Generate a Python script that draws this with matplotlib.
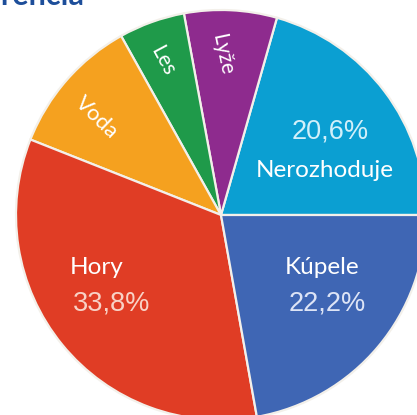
import matplotlib
matplotlib.use("Agg")
import matplotlib.pyplot as plt

# data (counter-clockwise from 3 o'clock)
categories = ["Nerozhoduje", "Lyže", "Les", "Voda", "Hory", "Kúpele"]
values = [20.6, 7.3, 5.2, 10.9, 33.8, 22.2]
colors = ["#0B9FD2", "#8E2B8E", "#1F9A4A", "#F5A11F", "#E03D25", "#3F66B4"]
pct_labels = {"Nerozhoduje": "20,6%", "Hory": "33,8%", "Kúpele": "22,2%"}

W, H = 417, 415
CX, CY, R = 221, 215, 205

def px(x, y):
    # pixel position -> data coords of the pie
    return (x - CX) / R, (CY - y) / R

fig = plt.figure(figsize=(W / 100, H / 100), dpi=100)
ax = fig.add_axes([0, 0, 1, 1])
ax.pie(values, colors=colors, startangle=0, counterclock=True, radius=1,
       wedgeprops=dict(edgecolor="#F3F0EA", linewidth=1.6))
ax.set_aspect("auto")
ax.set_xlim(px(0, 0)[0], px(W, 0)[0])
ax.set_ylim(px(0, H)[1], px(0, 0)[1])
ax.axis("off")

# category labels: (x, y, rotation, size)
label_pos = {
    "Nerozhoduje": (325, 170, 0, 17.5),
    "Kúpele": (322, 267, 0, 17.5),
    "Hory": (97, 267, 0, 17.5),
    "Voda": (97, 118, -44, 16),
    "Les": (163, 61, -62, 15),
    "Lyže": (222, 54, -78, 15),
}
pct_pos = {
    "Nerozhoduje": (330, 132),
    "Hory": (112, 303),
    "Kúpele": (327, 303),
}
pct_colors = {"Nerozhoduje": "#D2F0FA", "Hory": "#F8D2C6", "Kúpele": "#DDE4F6"}

for cat in categories:
    x, y, rot, fs = label_pos[cat]
    ax.text(*px(x, y), cat, ha="center", va="center", rotation=rot,
            color="white", fontsize=fs, family="Lato", rotation_mode="anchor")
    if cat in pct_labels:
        ax.text(*px(*pct_pos[cat]), pct_labels[cat], ha="center", va="center",
                color=pct_colors[cat], fontsize=19.5, family="Liberation Sans")

fig.text(84 / W, 1 - 5 / H, "Preferencia", ha="right", va="baseline",
         color="#1D4E9A", fontsize=22, weight="bold", family="Lato")

fig.savefig("out.png", dpi=100)
